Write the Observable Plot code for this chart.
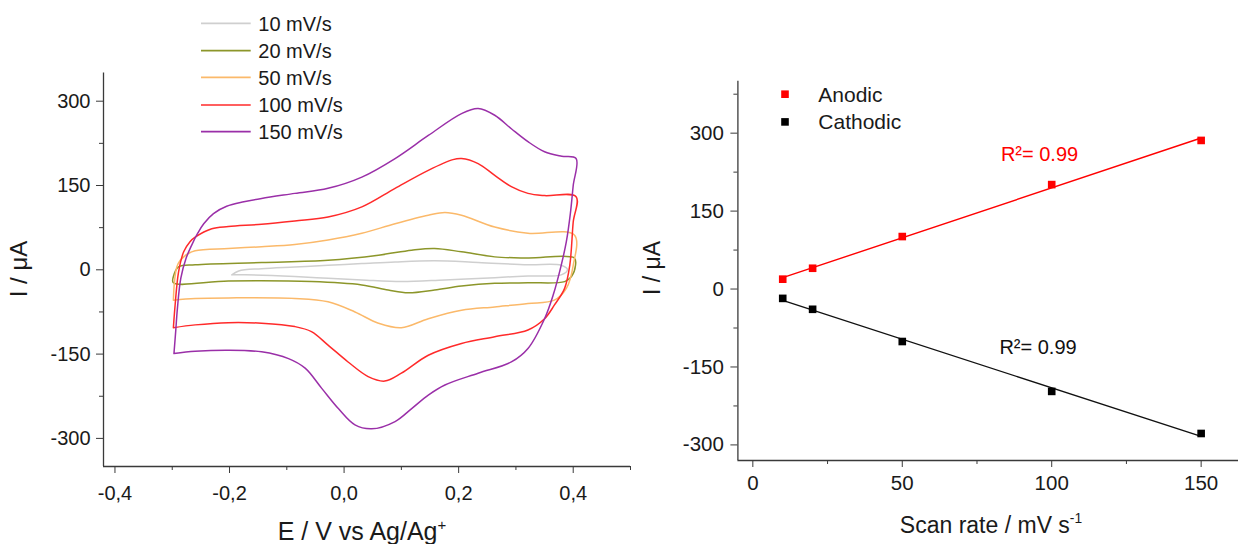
<!DOCTYPE html>
<html><head><meta charset="utf-8">
<script src="https://cdn.jsdelivr.net/npm/d3@7"></script>
<script src="https://cdn.jsdelivr.net/npm/@observablehq/plot@0.6"></script>
<style>
body{margin:0;background:#fff;}
#fig{position:relative;width:1238px;height:544px;overflow:hidden;font-family:"Liberation Sans",Arial,sans-serif;}
#fig svg{position:absolute;top:0;}
</style></head><body><div id="fig"></div>
<script>
// ---------- Left panel: cyclic voltammograms ----------
const series = ["10 mV/s", "20 mV/s", "50 mV/s", "100 mV/s", "150 mV/s"];
const seriesColors = ["#cfcfcf", "#8c962a", "#fbb96a", "#ff2a2a", "#9a2fa8"];

// [E (V), I (µA)] pairs, scan order
const cv10 = [[-0.196,-9],[-0.184,-2],[-0.144,2],[-0.086,5],[-0.028,8],[0.031,11],[0.089,14],[0.158,16],[0.234,13],[0.321,9],[0.379,8],[0.39,0],[0.379,-9],[0.321,-11],[0.263,-14],[0.176,-18],[0.1,-21],[0.031,-18],[-0.028,-15],[-0.086,-12],[-0.173,-9],[-0.196,-9]];
const cv20 = [[-0.298,-12],[-0.289,5],[-0.26,9],[-0.144,13],[-0.028,17],[0.06,26],[0.118,35],[0.158,38],[0.205,32],[0.263,23],[0.321,21],[0.402,21],[0.404,8],[0.397,-12],[0.385,-21],[0.321,-23],[0.263,-24],[0.205,-29],[0.158,-36],[0.112,-41],[0.077,-36],[0.031,-27],[-0.057,-21],[-0.202,-20],[-0.298,-23],[-0.298,-12]];
const cv50 = [[-0.298,-54],[-0.296,-20],[-0.292,5],[-0.286,17],[-0.272,29],[-0.26,34],[-0.202,38],[-0.144,41],[-0.086,45],[-0.028,53],[0.031,65],[0.089,82],[0.147,97],[0.176,102],[0.205,97],[0.263,76],[0.321,65],[0.402,62],[0.4,8],[0.388,-33],[0.367,-54],[0.321,-60],[0.263,-66],[0.205,-72],[0.147,-87],[0.1,-103],[0.06,-95],[0.019,-75],[-0.028,-57],[-0.086,-51],[-0.202,-50],[-0.26,-51],[-0.298,-54]];
const cv100 = [[-0.298,-103],[-0.295,-63],[-0.289,-4],[-0.28,32],[-0.269,50],[-0.26,58],[-0.231,73],[-0.202,77],[-0.144,81],[-0.086,87],[-0.028,94],[0.031,112],[0.089,145],[0.147,177],[0.19,196],[0.205,198],[0.234,189],[0.263,168],[0.292,148],[0.321,136],[0.35,132],[0.405,130],[0.4,85],[0.394,8],[0.385,-33],[0.367,-63],[0.35,-87],[0.321,-107],[0.263,-119],[0.205,-131],[0.147,-152],[0.1,-184],[0.071,-198],[0.042,-190],[0.007,-164],[-0.028,-134],[-0.057,-110],[-0.086,-101],[-0.144,-95],[-0.202,-94],[-0.26,-98],[-0.298,-103]];
const cv150 = [[-0.297,-149],[-0.294,-110],[-0.291,-69],[-0.285,-15],[-0.276,20],[-0.266,44],[-0.255,66],[-0.245,82],[-0.228,100],[-0.205,113],[-0.175,121],[-0.144,127],[-0.086,136],[-0.028,145],[0.031,165],[0.089,198],[0.147,239],[0.205,278],[0.234,287],[0.263,275],[0.292,251],[0.321,228],[0.35,210],[0.38,202],[0.405,198],[0.4,150],[0.395,100],[0.388,50],[0.379,8],[0.365,-45],[0.35,-87],[0.321,-140],[0.292,-164],[0.234,-184],[0.176,-205],[0.147,-223],[0.118,-247],[0.089,-270],[0.048,-283],[0.019,-276],[-0.01,-247],[-0.039,-211],[-0.068,-175],[-0.097,-158],[-0.144,-146],[-0.202,-143],[-0.26,-145],[-0.297,-149]];

const cvXTicks = [-0.4, -0.2, 0, 0.2, 0.4];
const cvXMinor = [-0.3, -0.1, 0.1, 0.3, 0.5];
const cvYTicks = [-300, -150, 0, 150, 300];
const cvYMinor = [-225, -75, 75, 225];

// ---------- Right panel: peak current vs scan rate ----------
const scanRates = [10, 20, 50, 100, 150];
const anodic = [19, 40, 101, 201, 286];
const cathodic = [-18, -39, -101, -197, -278];
const rateXTicks = [0, 50, 100, 150];
const rateXMinor = [25, 75, 125];
const rateYTicks = [-300, -150, 0, 150, 300];
const rateYMinor = [-225, -75, 75, 225, 375];
const r2Labels = [{x: 83, y: 258, t: "R²= 0.99", c: "#ff0000"}, {x: 82.5, y: -113, t: "R²= 0.99", c: "#111"}];

const FONT = '"Liberation Sans", Arial, sans-serif';
const AX = "#3a3a3a";

const cvRows = [cv10, cv20, cv50, cv100, cv150].flatMap((pts, k) =>
  pts.map(([E, I], i) => ({E, I, s: series[k], i})));
const anRows = scanRates.map((r, i) => ({r, I: anodic[i]}));
const caRows = scanRates.map((r, i) => ({r, I: cathodic[i]}));

const fig = document.getElementById("fig");

const left = Plot.plot({
  width: 640, height: 544,
  marginLeft: 103, marginRight: 10, marginTop: 72.6, marginBottom: 78,
  x: {domain: [-0.42, 0.5]},
  y: {domain: [-350, 350]},
  color: {domain: series, range: seriesColors},
  style: {fontFamily: FONT, color: "#1a1a1a", background: "transparent", overflow: "visible"},
  marks: [
    Plot.line(cvRows, {x: "E", y: "I", z: "s", stroke: "s", strokeWidth: 1.5, curve: "catmull-rom"}),
    Plot.ruleX([-0.42], {stroke: AX, strokeWidth: 1.3}),
    Plot.ruleY([-350], {stroke: AX, strokeWidth: 1.3}),
    Plot.axisX(cvXTicks, {tickSize: 7, tickPadding: 12, fontSize: 20, stroke: AX, label: null,
      tickFormat: d => d.toFixed(1).replace(".", ",")}),
    Plot.axisX(cvXMinor, {tickSize: 4, text: null, stroke: AX, label: null}),
    Plot.axisY(cvYTicks, {tickSize: 7, tickPadding: 6, fontSize: 20, stroke: AX, label: null,
      tickFormat: d => String(d)}),
    Plot.axisY(cvYMinor, {tickSize: 4, text: null, stroke: AX, label: null})
  ]
});
left.style.left = "0px";
fig.appendChild(left);

const right = Plot.plot({
  width: 598, height: 544,
  marginLeft: 97.4, marginRight: 0, marginTop: 80.7, marginBottom: 84,
  x: {domain: [-5, 162.5]},
  y: {domain: [-330, 400]},
  style: {fontFamily: FONT, color: "#1a1a1a", background: "transparent", overflow: "visible"},
  marks: [
    Plot.linearRegressionY(anRows, {x: "r", y: "I", stroke: "#ff0000", strokeWidth: 1.4, ci: 0}),
    Plot.linearRegressionY(caRows, {x: "r", y: "I", stroke: "#111", strokeWidth: 1.4, ci: 0}),
    Plot.dot(anRows, {x: "r", y: "I", symbol: "square", fill: "#ff0000", r: 4.3}),
    Plot.dot(caRows, {x: "r", y: "I", symbol: "square", fill: "#000", r: 4.3}),
    Plot.text(r2Labels, {x: "x", y: "y", text: "t", fill: "c", textAnchor: "start", fontSize: 20}),
    Plot.ruleX([-5], {stroke: AX, strokeWidth: 1.3}),
    Plot.ruleY([-330], {stroke: AX, strokeWidth: 1.3}),
    Plot.axisX(rateXTicks, {tickSize: 7, tickPadding: 8, fontSize: 20.5, stroke: AX, label: null,
      tickFormat: d => String(d)}),
    Plot.axisX(rateXMinor, {tickSize: 4, text: null, stroke: AX, label: null}),
    Plot.axisY(rateYTicks, {tickSize: 7, tickPadding: 7, fontSize: 20.5, stroke: AX, label: null,
      tickFormat: d => String(d)}),
    Plot.axisY(rateYMinor, {tickSize: 4, text: null, stroke: AX, label: null})
  ]
});
right.style.left = "640px";
fig.appendChild(right);

// ---------- titles & legends ----------
const L = d3.select(left), R = d3.select(right);
function label(sel, x, y, txt, size, rot, anchor, sup) {
  const t = sel.append("text").attr("font-family", FONT).attr("font-size", size)
    .attr("fill", "#1a1a1a").attr("text-anchor", anchor || "middle")
    .attr("transform", `translate(${x},${y})` + (rot ? ` rotate(${rot})` : ""));
  t.append("tspan").text(txt);
  if (sup) t.append("tspan").attr("font-size", size * 0.6).attr("dy", -size * 0.42).text(sup);
  return t;
}
label(L, 27, 269, "I / μA", 24, -90);
label(L, 362, 540, "E / V vs Ag/Ag", 25, 0, "middle", "+");
label(R, 20, 268, "I / μA", 23, -90);
label(R, 351, 533, "Scan rate / mV s", 23, 0, "middle", "-1");

// left legend
const legY = [23.3, 50.7, 77.3, 105, 131.7];
series.forEach((s, k) => {
  L.append("line").attr("x1", 201).attr("x2", 250.7).attr("y1", legY[k]).attr("y2", legY[k])
    .attr("stroke", seriesColors[k]).attr("stroke-width", 1.7);
  L.append("text").attr("x", 258.3).attr("y", legY[k] + 7.3).attr("font-family", FONT)
    .attr("text-anchor", "start").attr("font-size", 20).attr("fill", "#1a1a1a").text(s);
});
// right legend
[["Anodic", "#ff0000", 94.2], ["Cathodic", "#000", 121.9]].forEach(([t, c, y]) => {
  R.append("rect").attr("x", 145 - 3.8).attr("y", y - 3.8).attr("width", 7.6).attr("height", 7.6).attr("fill", c);
  R.append("text").attr("x", 178.3).attr("y", y + 7.5).attr("font-family", FONT)
    .attr("text-anchor", "start").attr("font-size", 21).attr("fill", "#1a1a1a").text(t);
});
</script></body></html>
